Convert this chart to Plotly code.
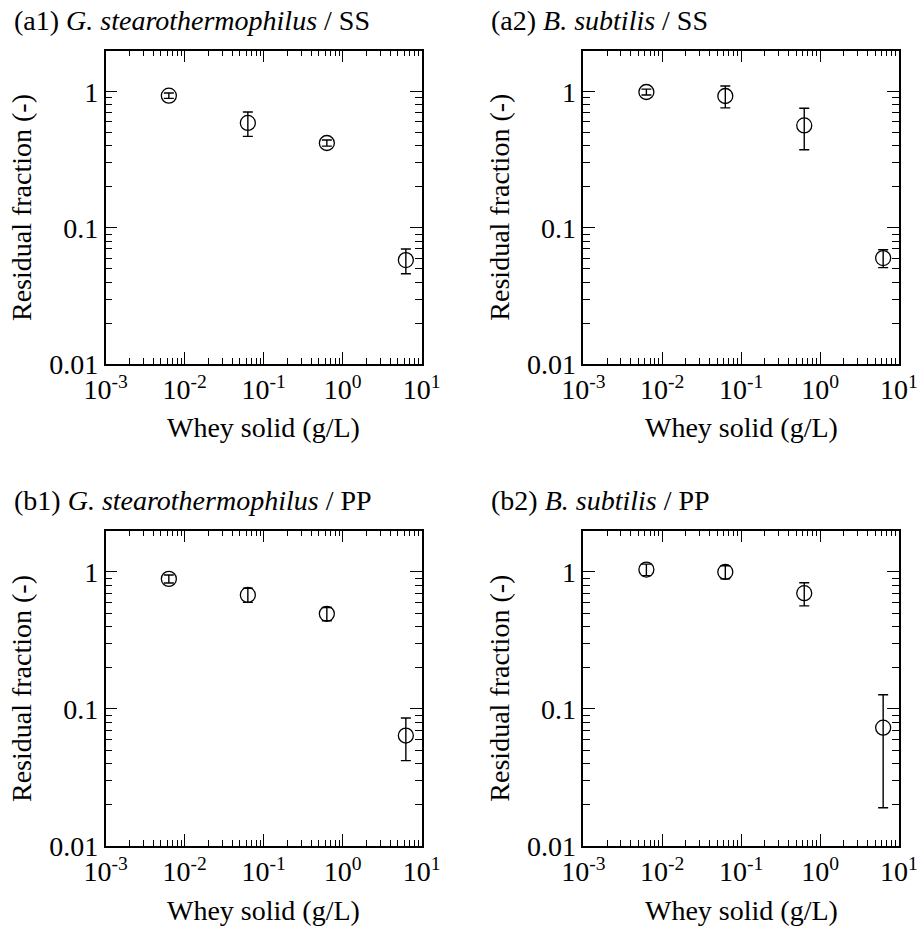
import numpy as np
import plotly.graph_objects as go

# ---- data ----
whey = [0.0063, 0.063, 0.63, 6.3]

a1_y = [0.935, 0.59, 0.42, 0.058]
a1_err = [0.042, 0.12, 0.022, 0.012]

a2_y = [0.995, 0.93, 0.565, 0.06]
a2_err = [0.05, 0.17, 0.19, 0.009]

b1_y = [0.89, 0.68, 0.495, 0.064]
b1_err = [0.06, 0.08, 0.055, 0.022]

b2_y = [1.04, 1.0, 0.70, 0.073]
b2_err = [0.1, 0.11, 0.135, 0.054]

panel_titles = [
    "(a1) <i>G. stearothermophilus</i> / SS",
    "(a2) <i>B. subtilis</i> / SS",
    "(b1) <i>G. stearothermophilus</i> / PP",
    "(b2) <i>B. subtilis</i> / PP",
]
x_tickvals = [0.001, 0.01, 0.1, 1, 10]
x_ticktext = ["10<sup>-3</sup>", "10<sup>-2</sup>", "10<sup>-1</sup>", "10<sup>0</sup>", "10<sup>1</sup>"]
y_tickvals = [0.01, 0.1, 1]
y_ticktext = ["0.01", "0.1", "1"]
x_title = "Whey solid (g/L)"
y_title = "Residual fraction (-)"

FONT = "Liberation Serif"
FS = 28
W, H = 919, 927

# panel geometry in pixels (left, right, top, bottom)
panels = [
    (105.7, 421.7, 50.7, 364.0),
    (583.3, 899.0, 50.7, 364.0),
    (105.7, 421.7, 530.7, 846.0),
    (583.3, 899.0, 530.7, 846.0),
]
series = [(a1_y, a1_err), (a2_y, a2_err), (b1_y, b1_err), (b2_y, b2_err)]

x_minor = [m * 10.0 ** e for e in range(-3, 1) for m in range(2, 10)]
y_minor = [m * 10.0 ** e for e in range(-2, 1) for m in range(2, 10)]

fig = go.Figure()
annotations = []
for i, ((l, r, t, b), (yv, ye), title) in enumerate(zip(panels, series, panel_titles)):
    n = i + 1
    xa = "x" if n == 1 else f"x{n}"
    ya = "y" if n == 1 else f"y{n}"
    fig.add_trace(go.Scatter(
        x=whey, y=yv, xaxis=xa, yaxis=ya, mode="markers",
        marker=dict(symbol="circle-open", size=15, color="black", line=dict(width=1.3, color="black")),
        error_y=dict(type="data", array=ye, visible=True, color="black", thickness=1.4, width=5),
        showlegend=False,
    ))
    common = dict(showline=True, linecolor="black", linewidth=1.5, mirror="allticks",
                  ticks="inside", tickcolor="black", tickwidth=1.3, ticklen=12,
                  showgrid=False, zeroline=False, automargin=False,
                  tickfont=dict(family=FONT, size=FS, color="black"))
    fig.update_layout({
        ("xaxis" if n == 1 else f"xaxis{n}"): dict(
            type="log", range=[-3, 1], domain=[l / W, r / W], anchor=ya,
            tickmode="array", tickvals=x_tickvals, ticktext=x_ticktext,
            minor=dict(tickmode="array", tickvals=x_minor, ticks="inside", ticklen=6,
                       tickwidth=1.1, tickcolor="black", showgrid=False),
            **common),
        ("yaxis" if n == 1 else f"yaxis{n}"): dict(
            type="log", range=[-2, np.log10(2.0)], domain=[1 - b / H, 1 - t / H], anchor=xa,
            tickmode="array", tickvals=y_tickvals, ticktext=y_ticktext,
            minor=dict(tickmode="array", tickvals=y_minor, ticks="inside", ticklen=7,
                       tickwidth=1.1, tickcolor="black", showgrid=False),
            **common),
    })
    # panel title
    annotations.append(dict(text=title, x=(l - 94) / W, y=1 - (t - 30) / H, xref="paper", yref="paper",
                            xanchor="left", yanchor="middle", showarrow=False,
                            font=dict(family=FONT, size=FS, color="black")))
    # x title
    annotations.append(dict(text=x_title, x=(l + r) / 2 / W, y=1 - (b + 64) / H, xref="paper", yref="paper",
                            xanchor="center", yanchor="middle", showarrow=False,
                            font=dict(family=FONT, size=FS, color="black")))
    # y title
    annotations.append(dict(text=y_title, x=(l - 84) / W, y=1 - (t + b) / 2 / H, xref="paper", yref="paper",
                            xanchor="center", yanchor="middle", showarrow=False, textangle=-90,
                            font=dict(family=FONT, size=FS, color="black")))

fig.update_layout(
    width=W, height=H, margin=dict(l=0, r=0, t=0, b=0),
    paper_bgcolor="white", plot_bgcolor="white",
    annotations=annotations,
    font=dict(family=FONT, size=FS, color="black"),
)
fig.write_html("out.html", config={"displayModeBar": False})

# remove the default page margin so the figure sits at the window's top-left corner
with open("out.html", "r", encoding="utf-8") as f:
    html = f.read()
html = html.replace("<body>", '<body style="margin:0;overflow:hidden">', 1)
with open("out.html", "w", encoding="utf-8") as f:
    f.write(html)
